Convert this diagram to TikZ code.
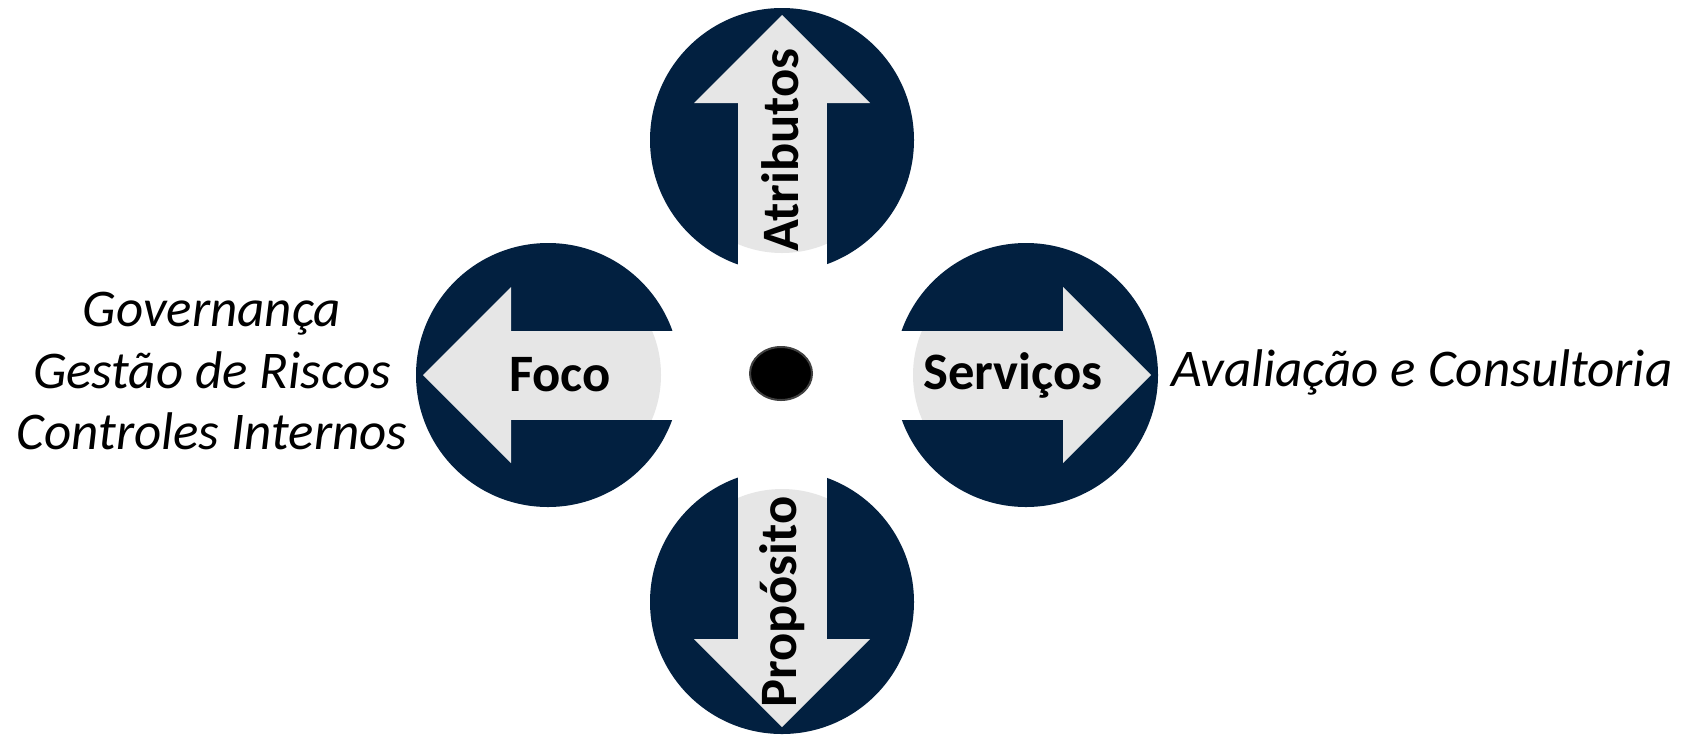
\documentclass[tikz,border=0pt]{standalone}
\usepackage{fontspec}
\setmainfont{Carlito}
\usetikzlibrary{shapes.geometric}
\definecolor{navy}{RGB}{2,32,64}
\definecolor{lightgrey}{RGB}{230,230,230}

\begin{document}
\begin{tikzpicture}[x=0.5pt, y=-0.5pt,
    disc/.pic={
        % dark disc
        \fill[navy] (0,0) circle (132);
        % shaft cut out of the disc
        \fill[white] (-136,-44.5) rectangle (0,44.5);
        \begin{scope}
            \clip (0,0) circle (113);
            \fill[lightgrey] (-136,-44.5) rectangle (38,44.5);
        \end{scope}
        % arrow head
        \fill[lightgrey] (37,-88) -- (125,0) -- (37,88) -- cycle;
    },
    disclabel/.style={font=\bfseries\fontsize{26.3}{26.3}\selectfont},
    sidetext/.style={font=\itshape\fontsize{26.5}{30.75}\selectfont, align=center}]
    \useasboundingbox (0,0) rectangle (1686,735);

    % Discs
    \pic (atributos) [rotate=90] at (782,140) {disc};
    \pic (foco) [rotate=180] at (548,375) {disc};
    \pic (servicos) at (1026,375) {disc};
    \pic (proposito) [rotate=-90] at (782,602) {disc};

    % Disc labels
    \node[disclabel, rotate=90] (latributos) at (780,150) {Atributos};
    \node[disclabel] (lfoco) at (560,375) {Foco};
    \node[disclabel] (lservicos) at (1013,375) {Serviços};
    \node[disclabel, rotate=90] (lproposito) at (782,602) {Propósito};

    % Centre
    \node[ellipse, draw=black!75, line width=1pt, fill=black, minimum width=31pt, minimum height=26.5pt, inner sep=0pt] (centro) at (781,373.5) {};

    % Side texts
    \node[sidetext] (temas) at (212,371) {Governança\\Gestão de Riscos\\Controles Internos};
    \node[sidetext] (atividades) at (1422,372) {Avaliação e Consultoria};
\end{tikzpicture}
\end{document}
